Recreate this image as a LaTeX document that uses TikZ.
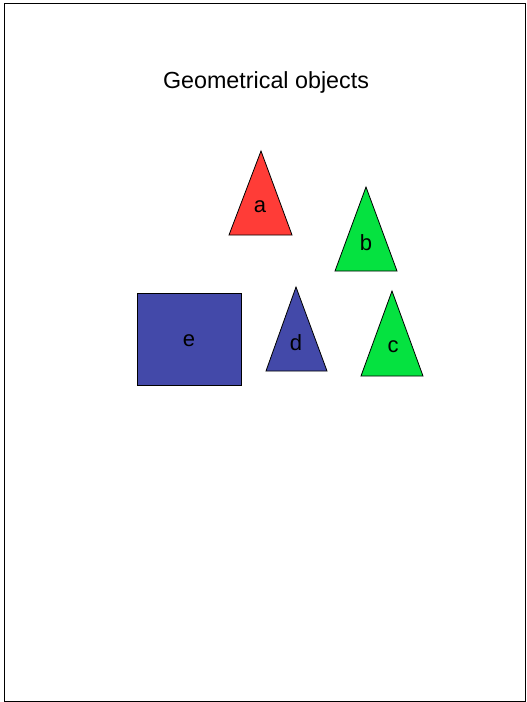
\documentclass[tikz,border=0pt]{standalone}
\usepackage{fontspec}
\setmainfont{Liberation Sans}
\definecolor{redfill}{RGB}{255,60,55}
\definecolor{greenfill}{RGB}{5,226,64}
\definecolor{bluefill}{RGB}{67,73,169}
\tikzset{
  solid shape/.style={draw=black,line width=0.8pt,line join=miter},
  tag/.style={font=\fontsize{22}{25}\selectfont,inner sep=0pt,anchor=center},
  titletext/.style={font=\fontsize{23.3}{27}\selectfont,inner sep=0pt},
}
\begin{document}
\begin{tikzpicture}[x=1pt,y=-1pt]
  \useasboundingbox (0,0) rectangle (527,702);
  \draw[line width=1pt] (4,3) rectangle (525,701);
  \node[titletext] (title) at (266,82) {Geometrical objects};
  % triangles
  \draw[solid shape,fill=redfill] (261,151) -- (292,235) -- (229,235) -- cycle;
  \node[tag] (a) at (260,207) {a};
  \draw[solid shape,fill=greenfill] (366,187) -- (397,271) -- (335,271) -- cycle;
  \node[tag] (b) at (366,243) {b};
  \draw[solid shape,fill=greenfill] (392,291) -- (423,376) -- (361,376) -- cycle;
  \node[tag] (c) at (393,347) {c};
  \draw[solid shape,fill=bluefill] (296,287) -- (327,371) -- (266,371) -- cycle;
  \node[tag] (d) at (296,343) {d};
  % square
  \draw[solid shape,fill=bluefill] (137,293) rectangle (241,385);
  \node[tag] (e) at (189,341) {e};
\end{tikzpicture}
\end{document}
